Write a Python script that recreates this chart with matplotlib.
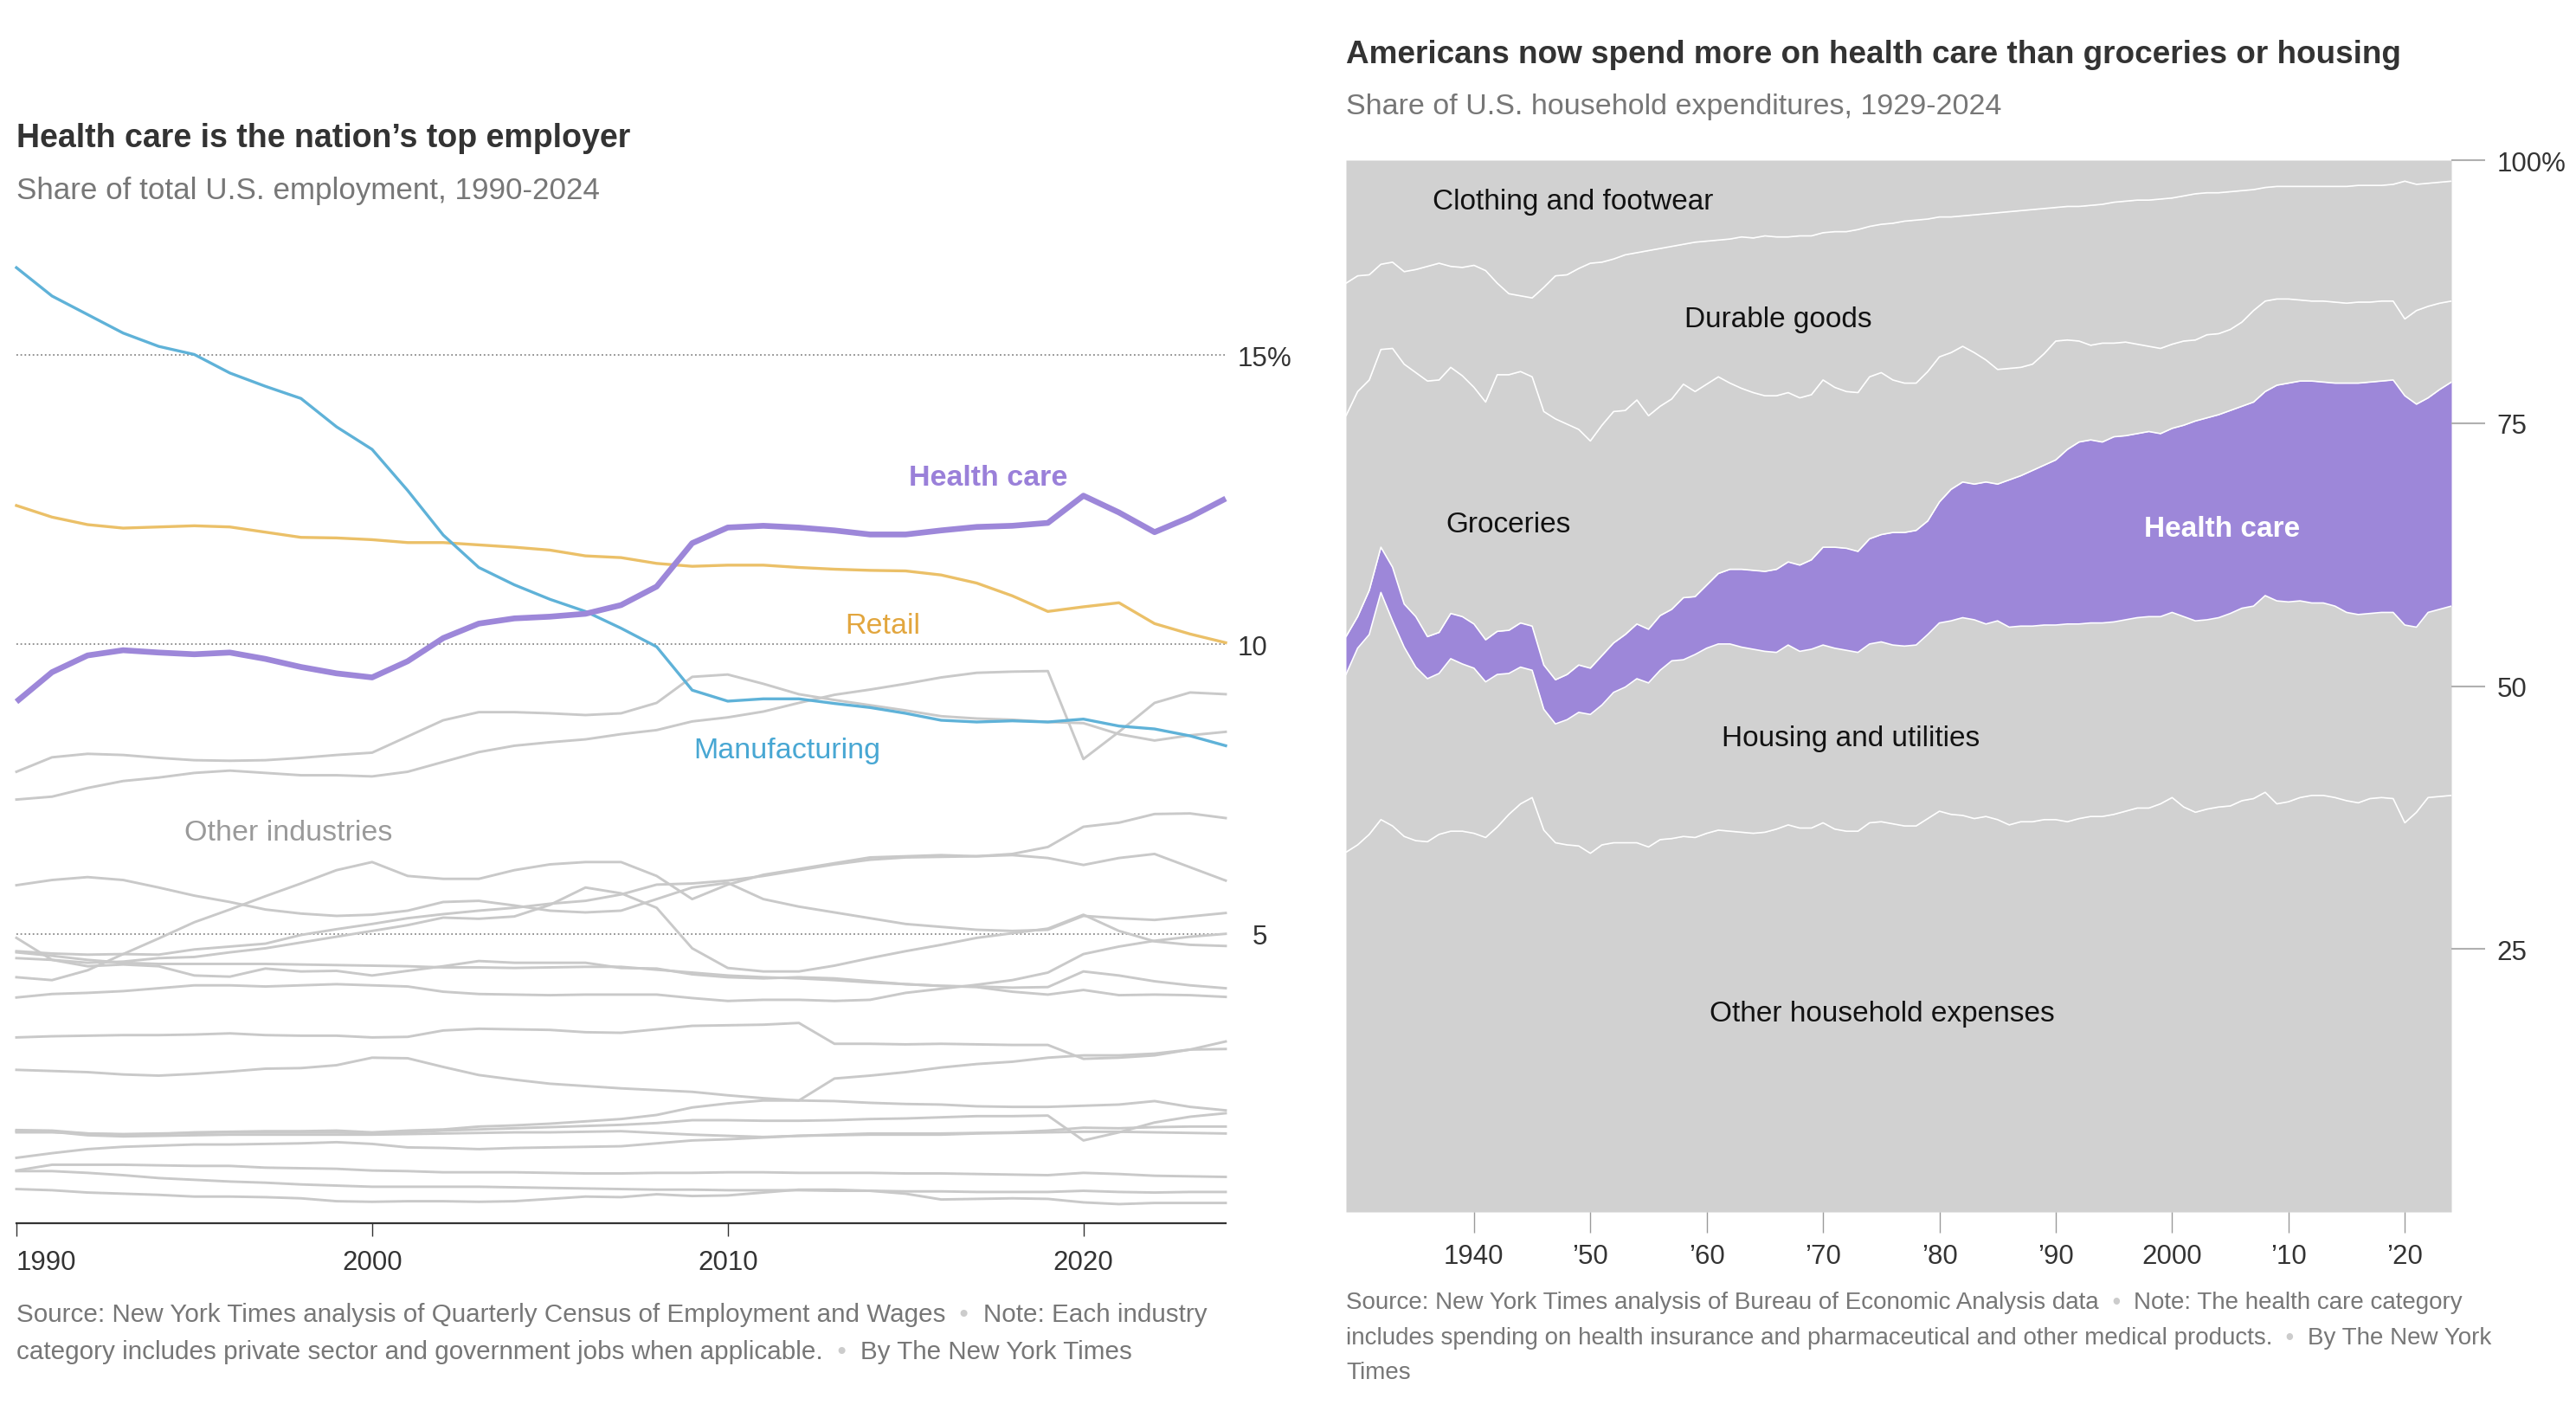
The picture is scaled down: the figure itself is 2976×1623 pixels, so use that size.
import matplotlib
matplotlib.use("Agg")
import matplotlib.pyplot as plt

plt.rcParams["font.family"] = ["Liberation Sans", "DejaVu Sans"]

W, H = 2976, 1624

# ---- left chart: share of total U.S. employment, 1990-2024 ----
emp_years = list(range(1990, 2025))

health_care = [9.01, 9.52, 9.81, 9.90, 9.86, 9.83, 9.86, 9.75, 9.61, 9.50,
               9.43, 9.71, 10.11, 10.36, 10.45, 10.48, 10.53, 10.68, 11.00, 11.75,
               12.02, 12.05, 12.02, 11.97, 11.90, 11.90, 11.97, 12.03, 12.05, 12.10,
               12.57, 12.28, 11.94, 12.20, 12.52]
retail = [12.40, 12.20, 12.07, 12.01, 12.03, 12.05, 12.03, 11.94, 11.85, 11.84,
          11.81, 11.76, 11.76, 11.72, 11.68, 11.63, 11.53, 11.50, 11.40, 11.35,
          11.37, 11.37, 11.33, 11.30, 11.28, 11.27, 11.20, 11.06, 10.84, 10.57,
          10.65, 10.72, 10.36, 10.18, 10.03]
manufacturing = [16.51, 16.02, 15.70, 15.38, 15.15, 15.01, 14.69, 14.46, 14.25, 13.76,
                 13.37, 12.66, 11.89, 11.33, 11.03, 10.78, 10.57, 10.28, 9.96, 9.21,
                 9.02, 9.06, 9.06, 8.98, 8.91, 8.81, 8.69, 8.66, 8.68, 8.66,
                 8.71, 8.59, 8.54, 8.42, 8.25]

other_industries = [
    [7.80, 8.05, 8.11, 8.09, 8.04, 8.00, 7.99, 8.00, 8.04, 8.09,
     8.13, 8.41, 8.69, 8.83, 8.83, 8.81, 8.78, 8.81, 8.99, 9.44,
     9.48, 9.32, 9.14, 9.04, 8.95, 8.86, 8.76, 8.72, 8.70, 8.66,
     8.64, 8.45, 8.34, 8.43, 8.49],
    [7.32, 7.37, 7.52, 7.64, 7.70, 7.78, 7.82, 7.78, 7.74, 7.74,
     7.72, 7.80, 7.97, 8.14, 8.25, 8.31, 8.36, 8.45, 8.52, 8.67,
     8.74, 8.84, 8.99, 9.13, 9.22, 9.32, 9.43, 9.51, 9.53, 9.54,
     8.02, 8.49, 8.99, 9.17, 9.14],
    [4.70, 4.66, 4.64, 4.65, 4.64, 4.73, 4.78, 4.83, 4.98, 5.08,
     5.17, 5.27, 5.34, 5.40, 5.45, 5.52, 5.57, 5.68, 5.85, 5.87,
     5.92, 6.00, 6.10, 6.20, 6.28, 6.32, 6.33, 6.34, 6.38, 6.50,
     6.85, 6.92, 7.07, 7.08, 7.00],
    [5.84, 5.93, 5.98, 5.93, 5.80, 5.66, 5.55, 5.42, 5.35, 5.31,
     5.33, 5.40, 5.55, 5.57, 5.49, 5.40, 5.37, 5.40, 5.60, 5.80,
     5.88, 5.60, 5.47, 5.37, 5.27, 5.17, 5.12, 5.07, 5.05, 5.07,
     5.31, 5.27, 5.24, 5.30, 5.36],
    [4.25, 4.20, 4.37, 4.65, 4.92, 5.20, 5.42, 5.65, 5.87, 6.10,
     6.24, 6.00, 5.95, 5.95, 6.10, 6.20, 6.24, 6.24, 6.00, 5.60,
     5.85, 6.02, 6.12, 6.22, 6.32, 6.34, 6.36, 6.34, 6.36, 6.31,
     6.19, 6.31, 6.38, 6.15, 5.92],
    [4.58, 4.55, 4.50, 4.52, 4.58, 4.60, 4.68, 4.75, 4.85, 4.95,
     5.05, 5.15, 5.28, 5.26, 5.30, 5.50, 5.80, 5.70, 5.45, 4.75,
     4.41, 4.35, 4.35, 4.45, 4.58, 4.70, 4.81, 4.93, 5.01, 5.09,
     5.33, 5.05, 4.87, 4.81, 4.79],
    [4.93, 4.55, 4.44, 4.47, 4.44, 4.28, 4.26, 4.40, 4.35, 4.36,
     4.28, 4.36, 4.44, 4.53, 4.50, 4.50, 4.50, 4.41, 4.40, 4.30,
     4.25, 4.23, 4.25, 4.23, 4.18, 4.13, 4.10, 4.08, 4.00, 3.95,
     4.03, 3.94, 3.95, 3.94, 3.91],
    [4.68, 4.62, 4.55, 4.50, 4.48, 4.48, 4.48, 4.48, 4.47, 4.46,
     4.45, 4.44, 4.42, 4.42, 4.41, 4.42, 4.43, 4.43, 4.38, 4.33,
     4.28, 4.25, 4.23, 4.20, 4.16, 4.13, 4.10, 4.09, 4.07, 4.08,
     4.35, 4.28, 4.18, 4.11, 4.06],
    [3.90, 3.96, 3.98, 4.01, 4.06, 4.11, 4.11, 4.09, 4.11, 4.13,
     4.11, 4.09, 4.00, 3.96, 3.95, 3.94, 3.95, 3.95, 3.95, 3.89,
     3.84, 3.86, 3.86, 3.84, 3.86, 3.98, 4.05, 4.12, 4.20, 4.33,
     4.65, 4.78, 4.88, 4.95, 5.00],
    [3.21, 3.23, 3.24, 3.25, 3.25, 3.26, 3.28, 3.25, 3.24, 3.24,
     3.21, 3.22, 3.33, 3.36, 3.35, 3.34, 3.30, 3.29, 3.35, 3.41,
     3.42, 3.43, 3.46, 3.10, 3.10, 3.09, 3.10, 3.09, 3.08, 3.08,
     2.84, 2.86, 2.90, 3.00, 3.14],
    [2.65, 2.63, 2.61, 2.57, 2.55, 2.58, 2.62, 2.67, 2.68, 2.73,
     2.86, 2.85, 2.70, 2.56, 2.48, 2.41, 2.37, 2.33, 2.30, 2.27,
     2.21, 2.16, 2.12, 2.50, 2.55, 2.61, 2.69, 2.75, 2.79, 2.86,
     2.90, 2.90, 2.93, 3.00, 3.01],
    [1.61, 1.60, 1.55, 1.53, 1.54, 1.57, 1.58, 1.59, 1.59, 1.60,
     1.57, 1.60, 1.62, 1.67, 1.69, 1.72, 1.76, 1.80, 1.87, 2.00,
     2.07, 2.12, 2.12, 2.11, 2.08, 2.06, 2.05, 2.02, 2.01, 2.01,
     2.03, 2.05, 2.11, 2.01, 1.95],
    [1.57, 1.57, 1.55, 1.54, 1.55, 1.56, 1.57, 1.57, 1.57, 1.57,
     1.55, 1.57, 1.60, 1.62, 1.64, 1.66, 1.68, 1.70, 1.73, 1.78,
     1.78, 1.77, 1.77, 1.78, 1.80, 1.81, 1.83, 1.85, 1.85, 1.86,
     1.43, 1.57, 1.74, 1.84, 1.90],
    [1.59, 1.58, 1.52, 1.50, 1.51, 1.52, 1.53, 1.53, 1.53, 1.53,
     1.53, 1.54, 1.55, 1.56, 1.57, 1.57, 1.58, 1.59, 1.56, 1.53,
     1.51, 1.49, 1.51, 1.53, 1.55, 1.55, 1.55, 1.56, 1.57, 1.60,
     1.65, 1.64, 1.66, 1.67, 1.67],
    [1.13, 1.21, 1.28, 1.32, 1.34, 1.36, 1.36, 1.37, 1.38, 1.40,
     1.37, 1.31, 1.30, 1.28, 1.30, 1.31, 1.32, 1.33, 1.38, 1.43,
     1.45, 1.48, 1.51, 1.52, 1.53, 1.53, 1.53, 1.55, 1.56, 1.57,
     1.58, 1.58, 1.57, 1.56, 1.55],
    [0.91, 1.01, 1.01, 1.01, 1.00, 0.99, 0.99, 0.96, 0.95, 0.94,
     0.91, 0.90, 0.88, 0.88, 0.88, 0.87, 0.86, 0.86, 0.87, 0.87,
     0.88, 0.88, 0.87, 0.87, 0.87, 0.86, 0.86, 0.85, 0.84, 0.83,
     0.87, 0.85, 0.82, 0.81, 0.80],
    [0.90, 0.90, 0.87, 0.83, 0.78, 0.75, 0.72, 0.70, 0.67, 0.65,
     0.63, 0.63, 0.63, 0.63, 0.62, 0.61, 0.60, 0.59, 0.58, 0.58,
     0.57, 0.57, 0.57, 0.56, 0.56, 0.55, 0.55, 0.54, 0.54, 0.54,
     0.56, 0.54, 0.53, 0.54, 0.54],
    [0.59, 0.57, 0.53, 0.51, 0.49, 0.46, 0.46, 0.45, 0.43, 0.38,
     0.37, 0.38, 0.38, 0.37, 0.38, 0.42, 0.46, 0.45, 0.50, 0.47,
     0.48, 0.53, 0.58, 0.58, 0.56, 0.51, 0.41, 0.42, 0.43, 0.42,
     0.36, 0.33, 0.35, 0.35, 0.35],
]

# ---- right chart: cumulative share of household expenditures, 1929-2024 ----
spend_years = list(range(1929, 2025))

other_top = [34.2, 34.9, 35.9, 37.3, 36.7, 35.7, 35.3, 35.2, 35.9, 36.2,
             36.2, 36.0, 35.6, 36.6, 37.8, 38.8, 39.4, 36.3, 35.1, 34.9,
             34.8, 34.1, 34.9, 35.1, 35.1, 35.1, 34.7, 35.4, 35.5, 35.7,
             35.6, 36.0, 36.3, 36.2, 36.1, 36.0, 36.1, 36.4, 36.8, 36.5,
             36.5, 37.0, 36.4, 36.2, 36.2, 37.0, 37.1, 36.9, 36.7, 36.7,
             37.4, 38.1, 37.8, 37.7, 37.4, 37.6, 37.3, 36.8, 37.1, 37.1,
             37.3, 37.3, 37.1, 37.4, 37.6, 37.6, 37.8, 38.1, 38.4, 38.4,
             38.8, 39.4, 38.5, 38.0, 38.3, 38.5, 38.6, 39.1, 39.3, 39.9,
             38.8, 39.0, 39.4, 39.6, 39.6, 39.4, 39.1, 38.9, 39.3, 39.4,
             39.3, 37.0, 38.0, 39.4, 39.5, 39.6]
housing_top = [51.1, 53.6, 54.9, 58.9, 56.2, 53.7, 51.8, 50.7, 51.2, 52.6,
               52.1, 51.7, 50.4, 51.1, 51.2, 51.8, 51.5, 47.8, 46.4, 46.8,
               47.5, 47.3, 48.2, 49.4, 49.9, 50.7, 50.3, 51.5, 52.4, 52.5,
               53.0, 53.6, 54.0, 54.0, 53.7, 53.5, 53.3, 53.2, 53.9, 53.3,
               53.5, 53.9, 53.6, 53.4, 53.2, 54.0, 54.2, 53.9, 53.8, 53.9,
               54.9, 56.0, 56.2, 56.5, 56.3, 55.9, 56.2, 55.6, 55.7, 55.7,
               55.8, 55.8, 55.9, 55.9, 56.0, 56.0, 56.1, 56.3, 56.5, 56.6,
               56.6, 57.0, 56.6, 56.2, 56.3, 56.5, 56.9, 57.4, 57.6, 58.6,
               58.1, 58.0, 58.1, 57.9, 57.9, 57.6, 57.0, 56.8, 56.9, 57.0,
               57.0, 55.8, 55.6, 57.0, 57.3, 57.6]
health_top = [54.7, 56.6, 59.1, 63.2, 61.3, 57.8, 56.6, 54.7, 55.1, 56.9,
              56.6, 55.9, 54.4, 55.2, 55.3, 56.0, 55.7, 52.0, 50.6, 51.1,
              52.0, 51.7, 52.9, 54.1, 54.9, 55.9, 55.4, 56.7, 57.3, 58.4,
              58.5, 59.6, 60.7, 61.1, 61.1, 61.0, 60.9, 61.1, 61.8, 61.5,
              62.0, 63.2, 63.2, 63.1, 62.8, 64.0, 64.4, 64.6, 64.6, 64.8,
              65.7, 67.5, 68.7, 69.4, 69.2, 69.4, 69.2, 69.6, 70.0, 70.5,
              71.0, 71.5, 72.5, 73.2, 73.4, 73.2, 73.7, 73.8, 74.0, 74.2,
              74.0, 74.5, 74.8, 75.2, 75.5, 75.8, 76.2, 76.6, 77.0, 78.0,
              78.6, 78.8, 79.0, 79.0, 78.9, 78.8, 78.8, 78.8, 78.9, 79.0,
              79.1, 77.6, 76.8, 77.4, 78.2, 78.9]
groceries_top = [75.7, 78.0, 79.1, 82.0, 82.1, 80.6, 79.8, 79.0, 79.1, 80.3,
                 79.5, 78.4, 77.0, 79.6, 79.6, 79.9, 79.4, 76.1, 75.4, 74.9,
                 74.4, 73.3, 74.8, 76.1, 76.2, 77.2, 75.7, 76.6, 77.3, 78.7,
                 78.0, 78.7, 79.4, 78.8, 78.3, 77.9, 77.6, 77.6, 77.9, 77.4,
                 77.7, 79.1, 78.4, 78.0, 77.9, 79.4, 79.8, 79.1, 78.8, 78.8,
                 79.9, 81.3, 81.7, 82.3, 81.7, 81.0, 80.1, 80.2, 80.3, 80.6,
                 81.6, 82.8, 82.9, 82.8, 82.4, 82.6, 82.6, 82.7, 82.5, 82.3,
                 82.1, 82.5, 82.8, 82.9, 83.4, 83.5, 83.9, 84.6, 85.7, 86.6,
                 86.8, 86.8, 86.7, 86.6, 86.6, 86.5, 86.4, 86.5, 86.5, 86.6,
                 86.6, 84.9, 85.7, 86.1, 86.4, 86.6]
durable_top = [88.3, 89.0, 89.1, 90.1, 90.3, 89.4, 89.6, 89.9, 90.2, 89.9,
               89.8, 90.0, 89.5, 88.3, 87.3, 87.1, 86.9, 87.9, 89.0, 89.1,
               89.7, 90.2, 90.3, 90.6, 91.0, 91.2, 91.4, 91.6, 91.8, 92.0,
               92.2, 92.3, 92.4, 92.5, 92.7, 92.6, 92.8, 92.7, 92.7, 92.8,
               92.8, 93.1, 93.2, 93.2, 93.4, 93.7, 93.9, 94.0, 94.2, 94.3,
               94.4, 94.6, 94.6, 94.7, 94.8, 94.9, 95.0, 95.1, 95.2, 95.3,
               95.4, 95.5, 95.6, 95.6, 95.7, 95.8, 96.0, 96.1, 96.2, 96.2,
               96.3, 96.4, 96.6, 96.8, 96.9, 96.9, 97.0, 97.1, 97.2, 97.4,
               97.5, 97.5, 97.5, 97.5, 97.5, 97.5, 97.5, 97.6, 97.6, 97.6,
               97.7, 98.0, 97.7, 97.8, 97.9, 98.0]
clothing_top = [100.0] * len(spend_years)

spend_labels = ["Other household expenses", "Housing and utilities", "Health care",
                "Groceries", "Durable goods", "Clothing and footwear"]

GRAY_LINE = "#c9c9c9"
PURPLE = "#9d87d9"
BLUE = "#5fb2d8"
YELLOW = "#ebc068"
AREA = "#d1d1d1"


def px(x, y):
    return x / W, 1 - y / H


fig = plt.figure(figsize=(W / 100, H / 100), dpi=100)

# titles
fig.text(*px(19, 170), "Health care is the nation\u2019s top employer",
         fontsize=27, fontweight="bold", color="#333333")
fig.text(*px(19, 230), "Share of total U.S. employment, 1990-2024",
         fontsize=25.2, color="#777777")
fig.text(*px(1555, 73), "Americans now spend more on health care than groceries or housing",
         fontsize=26.6, fontweight="bold", color="#333333")
fig.text(*px(1555, 132), "Share of U.S. household expenditures, 1929-2024",
         fontsize=24.5, color="#777777")

# ---- left chart ----
ax1 = fig.add_axes([19 / W, 1 - 1414 / H, (1416 - 19) / W, (1414 - 244) / H])
ax1.set_xlim(1990, 2024)
ax1.set_ylim(0, 17.5)
for side in ["top", "right", "left"]:
    ax1.spines[side].set_visible(False)
ax1.spines["bottom"].set_color("#333333")
ax1.spines["bottom"].set_linewidth(1.6)
ax1.set_yticks([])
ax1.set_xticks([1990, 2000, 2010, 2020])
ax1.tick_params(axis="x", length=10.8, width=1, color="#333333",
                labelsize=22.5, labelcolor="#333333", pad=11)
ax1.get_xticklabels()[0].set_horizontalalignment("left")

for v in [5, 10, 15]:
    ax1.axhline(v, color="#8a8a8a", lw=1.3, ls=(0, (1, 1.6)), zorder=1)
    ax1.text(2025.17, v - 0.17, str(v), ha="right", va="baseline",
             fontsize=22.5, color="#333333", clip_on=False)
ax1.text(2025.17, 15 - 0.17, "%", ha="left", va="baseline",
         fontsize=22.5, color="#333333", clip_on=False)

for series in other_industries:
    ax1.plot(emp_years, series, color=GRAY_LINE, lw=2.1, zorder=2, clip_on=False)
ax1.plot(emp_years, retail, color=YELLOW, lw=2.4, zorder=3, clip_on=False)
ax1.plot(emp_years, manufacturing, color=BLUE, lw=2.4, zorder=4, clip_on=False)
ax1.plot(emp_years, health_care, color=PURPLE, lw=4.8, zorder=5,
         solid_capstyle="butt", clip_on=False)

ax1.text(2015.09, 12.76, "Health care", fontsize=24.5, fontweight="bold",
         color="#9a80d9", ha="left", va="baseline")
ax1.text(2013.29, 10.20, "Retail", fontsize=24.5, color="#e2a63e",
         ha="left", va="baseline")
ax1.text(2009.03, 8.05, "Manufacturing", fontsize=24.5, color="#48a7d3",
         ha="left", va="baseline")
ax1.text(1994.72, 6.63, "Other industries", fontsize=24.5, color="#9a9a9a",
         ha="left", va="baseline")

# ---- right chart ----
ax2 = fig.add_axes([1555 / W, 1 - 1401 / H, 1277 / W, 1215 / H])
ax2.set_xlim(1929, 2024)
ax2.set_ylim(0, 100)
for side in ax2.spines:
    ax2.spines[side].set_visible(False)

bounds = [[0.0] * len(spend_years), other_top, housing_top, health_top,
          groceries_top, durable_top, clothing_top]
for i, name in enumerate(spend_labels):
    color = PURPLE if name == "Health care" else AREA
    ax2.fill_between(spend_years, bounds[i], bounds[i + 1], color=color,
                     lw=0, zorder=1)
for b in bounds[1:-1]:
    ax2.plot(spend_years, b, color="white", lw=1.2, zorder=2)

ax2.set_xticks([1940, 1950, 1960, 1970, 1980, 1990, 2000, 2010, 2020])
ax2.set_xticklabels(["1940", "\u201950", "\u201960", "\u201970", "\u201980",
                     "\u201990", "2000", "\u201910", "\u201920"])
ax2.tick_params(axis="x", length=17, width=1, color="#9a9a9a", pad=9,
                labelsize=22.5, labelcolor="#333333")
ax2.yaxis.tick_right()
ax2.set_yticks([25, 50, 75, 100])
ax2.set_yticklabels(["25", "50", "75", "100%"])
ax2.tick_params(axis="y", length=28, width=1.5, color="#b0b0b0", pad=10,
                labelsize=22.5, labelcolor="#333333")

ax2.text(1936.44, 95.4, "Clothing and footwear", fontsize=24, color="#121212")
ax2.text(1958.1, 84.2, "Durable goods", fontsize=24, color="#121212")
ax2.text(1937.6, 64.7, "Groceries", fontsize=24, color="#121212")
ax2.text(1997.6, 64.3, "Health care", fontsize=24, fontweight="bold", color="white")
ax2.text(1961.3, 44.4, "Housing and utilities", fontsize=24, color="#121212")
ax2.text(1960.25, 18.2, "Other household expenses", fontsize=24, color="#121212")


# ---- footers ----
def footer(x, y, pieces, size):
    t = fig.text(*px(x, y), pieces[0], fontsize=size, color="#777777")
    for p in pieces[1:]:
        col = "#cccccc" if p.strip() == "\u2022" else "#777777"
        t = ax1.annotate(p, xy=(1, 0), xycoords=t, va="bottom", ha="left",
                         fontsize=size, color=col, annotation_clip=False)


footer(19, 1527, ["Source: New York Times analysis of Quarterly Census of Employment and Wages",
                  "  \u2022  ", "Note: Each industry"], 21.3)
footer(19, 1570, ["category includes private sector and government jobs when applicable.",
                  "  \u2022  ", "By The New York Times"], 21.3)
footer(1555, 1512, ["Source: New York Times analysis of Bureau of Economic Analysis data",
                    "  \u2022  ", "Note: The health care category"], 20)
footer(1555, 1553, ["includes spending on health insurance and pharmaceutical and other medical products.",
                    "  \u2022  ", "By The New York"], 20)
footer(1555, 1593, ["Times"], 20)

fig.savefig("out.png", dpi=100)
